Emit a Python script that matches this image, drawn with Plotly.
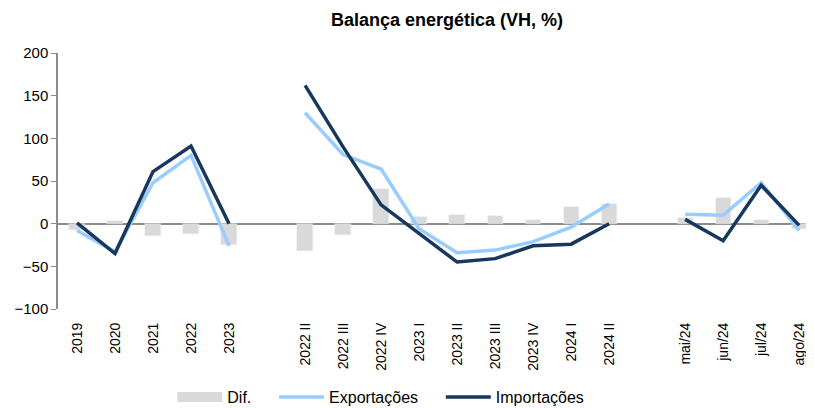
import plotly.graph_objects as go

# categories, with None marking the blank slots between groups
categories = [
    "2019", "2020", "2021", "2022", "2023", None,
    "2022 II", "2022 III", "2022 IV", "2023 I", "2023 II", "2023 III",
    "2023 IV", "2024 I", "2024 II", None,
    "mai/24", "jun/24", "jul/24", "ago/24",
]

dif = [
    -8, 3, -14, -12, -25, None,
    -32, -13, 41, 8, 10, 9, 4, 20, 23, None,
    7, 30, 4, -6,
]
exportacoes = [
    -8, -33, 48, 80, -26, None,
    130, 81, 64, -6, -34, -31, -21, -4, 23, None,
    11, 10, 48, -8,
]
importacoes = [
    1, -35, 61, 91, 0, None,
    162, 90, 22, -11, -45, -41, -26, -24, 0, None,
    5, -20, 45, -2,
]

x = list(range(len(categories)))
tick_pos = [i for i, c in enumerate(categories) if c is not None]
tick_txt = [c for c in categories if c is not None]

pad = "\u00a0" * 4  # extra room between legend entries

fig = go.Figure()
fig.add_trace(go.Bar(
    x=x, y=dif, name="Dif.", marker_color="#d9d9d9", width=0.4, showlegend=False,
))
# legend entry for the bars, drawn as a wide grey block like the original
fig.add_trace(go.Scatter(
    x=[None], y=[None], name="Dif." + pad, mode="lines",
    line=dict(color="#d9d9d9", width=10), hoverinfo="skip",
))
fig.add_trace(go.Scatter(
    x=x, y=exportacoes, name="Exportações" + pad, mode="lines",
    line=dict(color="#99ccff", width=3.5), connectgaps=False,
))
fig.add_trace(go.Scatter(
    x=x, y=importacoes, name="Importações", mode="lines",
    line=dict(color="#17375e", width=3.5), connectgaps=False,
))

# page body has an 8px margin, so the figure is 8px smaller than the window
fig.update_layout(
    width=806, height=400,
    margin=dict(l=50, r=0, t=45, b=99, autoexpand=False),
    paper_bgcolor="white", plot_bgcolor="white",
    font=dict(family="Liberation Sans, Arial, sans-serif", size=14, color="#000000"),
    title=dict(
        text="<b>Balança energética (VH, %)</b>",
        x=439 / 806, xanchor="center", y=0.97, yanchor="middle",
        font=dict(size=18),
    ),
    showlegend=True,
    legend=dict(
        orientation="h", x=0.427, xanchor="center", y=-0.344, yanchor="middle",
        font=dict(size=16), bgcolor="rgba(0,0,0,0)", traceorder="normal",
        itemwidth=45,
    ),
    bargap=0,
)
fig.update_xaxes(
    range=[-0.5, 19.39], tickmode="array", tickvals=tick_pos, ticktext=tick_txt,
    tickangle=-90, tickfont=dict(size=14), showgrid=False, zeroline=False,
    showline=False, ticks="outside", ticklen=7, tickcolor="rgba(0,0,0,0)",
)
fig.update_yaxes(
    range=[-100, 200], dtick=50, showgrid=False,
    zeroline=True, zerolinecolor="#8c8c8c", zerolinewidth=1.5,
    showline=True, linecolor="#8c8c8c", linewidth=1.5,
    ticks="outside", tickcolor="#8c8c8c", ticklen=5, tickfont=dict(size=15),
)

fig.write_html("out.html")
